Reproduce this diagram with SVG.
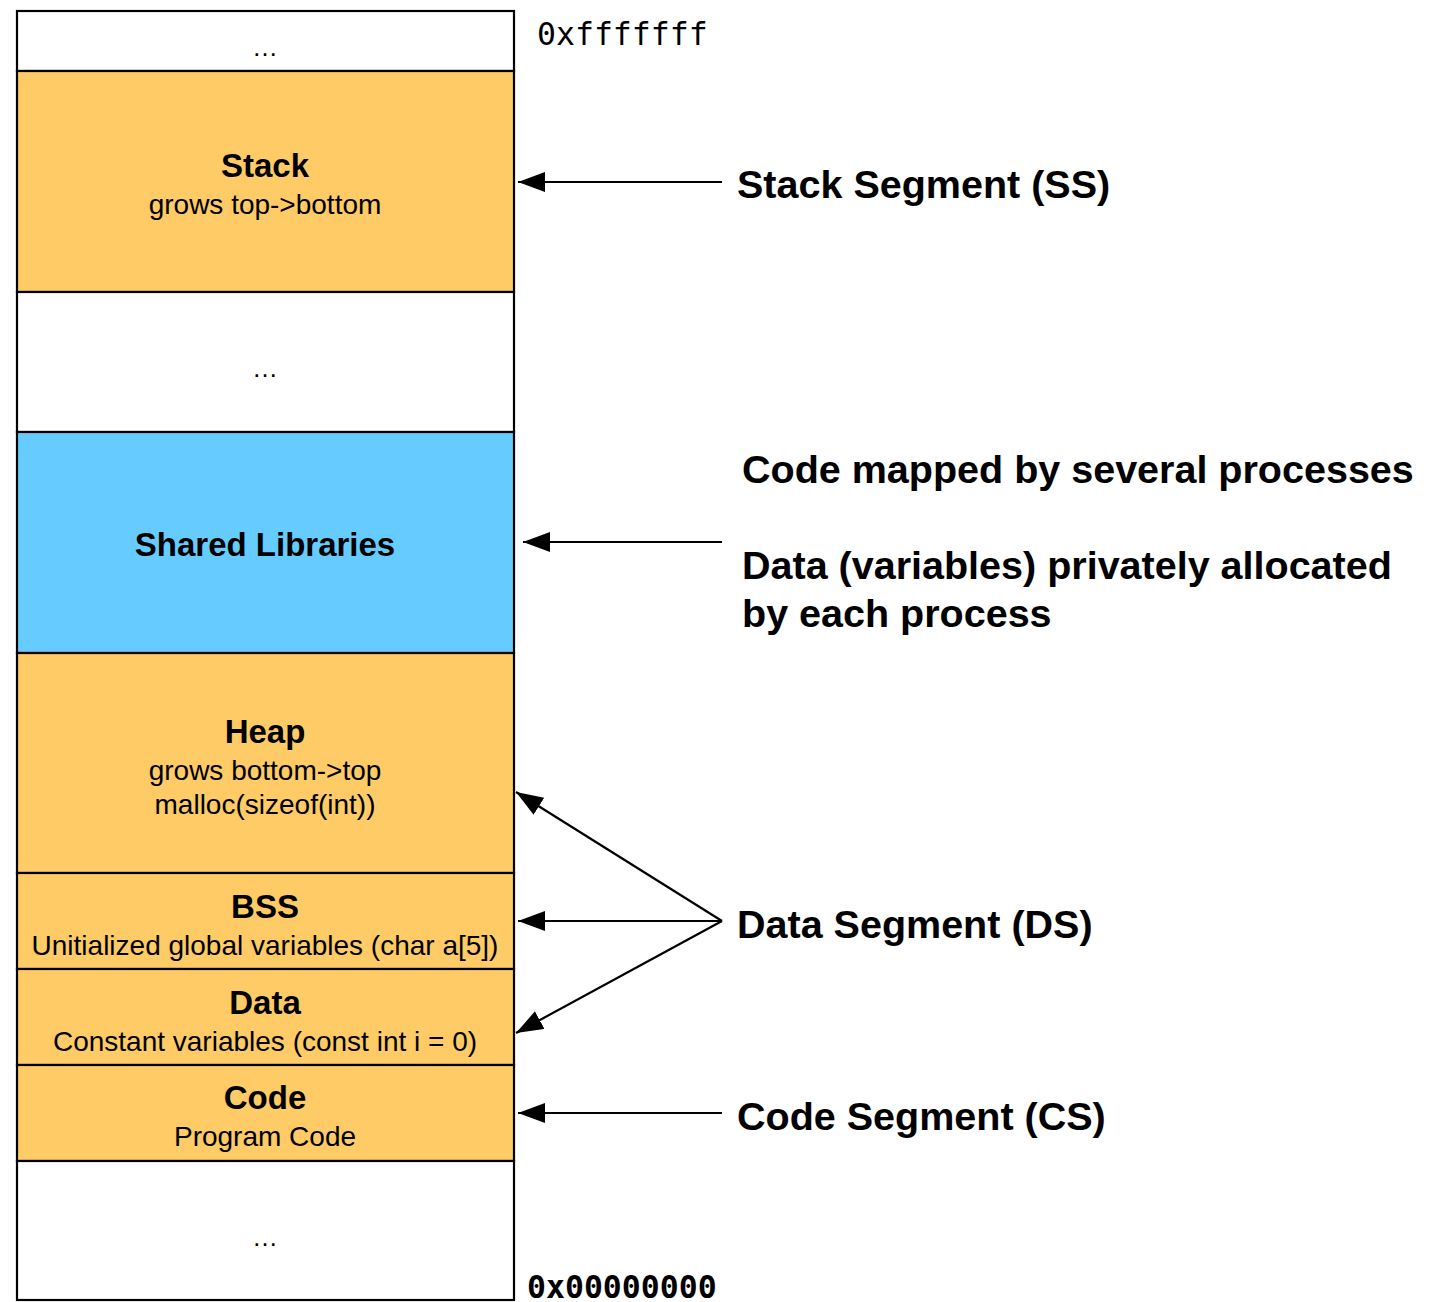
<svg xmlns="http://www.w3.org/2000/svg" width="1435" height="1302" viewBox="0 0 1435 1302">
  <style>
    .seg { stroke: #000; stroke-width: 2.2; }
    .orange { fill: #FECB66; }
    .blue { fill: #66CCFF; }
    .empty { fill: #FFFFFF; }
    .title { font-family: "Liberation Sans", Arial, sans-serif; font-weight: bold; font-size: 33px; text-anchor: middle; fill: #000; }
    .sub { font-family: "Liberation Sans", Arial, sans-serif; font-size: 28px; text-anchor: middle; fill: #000; }
    .dots { font-family: "Liberation Sans", Arial, sans-serif; font-size: 26px; text-anchor: middle; fill: #000; }
    .label { font-family: "Liberation Sans", Arial, sans-serif; font-weight: bold; font-size: 39.5px; fill: #000; }
    .addr { font-family: "DejaVu Sans Mono", "Liberation Mono", monospace; font-size: 31.5px; fill: #000; }
    .conn { stroke: #000; stroke-width: 2.2; fill: none; marker-end: url(#head); }
  </style>
  <defs>
    <marker id="head" markerUnits="userSpaceOnUse" markerWidth="28" markerHeight="22" refX="27" refY="10" orient="auto">
      <path d="M0,0 L27,10 L0,20 Z" fill="#000"/>
    </marker>
  </defs>

  <!-- memory layout column, top (high addresses) to bottom -->
  <g id="top-gap">
    <rect class="seg empty" x="17" y="11" width="497" height="60"/>
    <text class="dots" x="265" y="56">…</text>
  </g>
  <g id="stack">
    <rect class="seg orange" x="17" y="71" width="497" height="221"/>
    <text class="title" x="265" y="177">Stack</text>
    <text class="sub" x="265" y="214">grows top-&gt;bottom</text>
  </g>
  <g id="mid-gap">
    <rect class="seg empty" x="17" y="292" width="497" height="140"/>
    <text class="dots" x="265" y="377">…</text>
  </g>
  <g id="shared-libraries">
    <rect class="seg blue" x="17" y="432" width="497" height="221"/>
    <text class="title" x="265" y="556">Shared Libraries</text>
  </g>
  <g id="heap">
    <rect class="seg orange" x="17" y="653" width="497" height="220"/>
    <text class="title" x="265" y="743">Heap</text>
    <text class="sub" x="265" y="780">grows bottom-&gt;top</text>
    <text class="sub" x="265" y="814">malloc(sizeof(int))</text>
  </g>
  <g id="bss">
    <rect class="seg orange" x="17" y="873" width="497" height="96"/>
    <text class="title" x="265" y="918">BSS</text>
    <text class="sub" x="265" y="955">Unitialized global variables (char a[5])</text>
  </g>
  <g id="data">
    <rect class="seg orange" x="17" y="969" width="497" height="96"/>
    <text class="title" x="265" y="1014">Data</text>
    <text class="sub" x="265" y="1051">Constant variables (const int i = 0)</text>
  </g>
  <g id="code">
    <rect class="seg orange" x="17" y="1065" width="497" height="96"/>
    <text class="title" x="265" y="1109">Code</text>
    <text class="sub" x="265" y="1146">Program Code</text>
  </g>
  <g id="bottom-gap">
    <rect class="seg empty" x="17" y="1161" width="497" height="139"/>
    <text class="dots" x="265" y="1246">…</text>
  </g>

  <!-- address bounds -->
  <g id="addresses">
    <text class="addr" x="537" y="45">0xfffffff</text>
    <text class="addr" x="527" y="1298" font-weight="bold">0x00000000</text>
  </g>

  <!-- segment labels -->
  <g id="label-ss">
    <text class="label" x="737" y="198">Stack Segment (SS)</text>
  </g>
  <g id="label-shared">
    <text class="label" x="742" y="483">Code mapped by several processes</text>
    <text class="label" x="742" y="579">Data (variables) privately allocated</text>
    <text class="label" x="742" y="627">by each process</text>
  </g>
  <g id="label-ds">
    <text class="label" x="737" y="938">Data Segment (DS)</text>
  </g>
  <g id="label-cs">
    <text class="label" x="737" y="1130">Code Segment (CS)</text>
  </g>

  <!-- connectors -->
  <g id="connectors">
    <line class="conn" x1="722" y1="182" x2="518" y2="182"/>
    <line class="conn" x1="722" y1="542" x2="523" y2="542"/>
    <line class="conn" x1="722" y1="921" x2="516" y2="792"/>
    <line class="conn" x1="722" y1="921" x2="518" y2="921"/>
    <line class="conn" x1="722" y1="921" x2="516" y2="1033"/>
    <line class="conn" x1="722" y1="1113" x2="518" y2="1113"/>
  </g>
</svg>
